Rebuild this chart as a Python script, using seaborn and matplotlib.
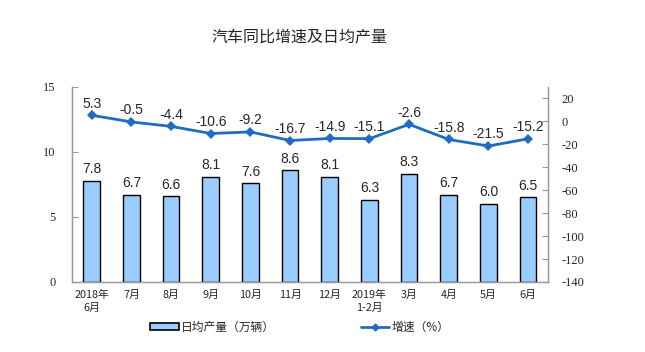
import numpy as np
import pandas as pd
import matplotlib
matplotlib.use("Agg")
import matplotlib.pyplot as plt
import seaborn as sns
from matplotlib.lines import Line2D
from matplotlib.patches import Patch

categories = ["2018年\n6月", "7月", "8月", "9月", "10月", "11月", "12月",
              "2019年\n1-2月", "3月", "4月", "5月", "6月"]
daily_output = [7.8, 6.7, 6.6, 8.1, 7.6, 8.6, 8.1, 6.3, 8.3, 6.7, 6.0, 6.5]
growth = [5.3, -0.5, -4.4, -10.6, -9.2, -16.7, -14.9, -15.1, -2.6, -15.8, -21.5, -15.2]
left_ticks = [0, 5, 10, 15]
right_ticks = [-140, -120, -100, -80, -60, -40, -20, 0, 20]

sns.set_style("white")
plt.rcParams['font.family'] = ['Noto Sans CJK SC', 'DejaVu Sans']

df = pd.DataFrame({"cat": categories, "out": daily_output, "g": growth,
                   "pos": np.arange(len(categories))})

fig = plt.figure(figsize=(6.45, 3.52), dpi=100)
ax = fig.add_axes([0.1116, 0.199, 0.738, 0.554])

sns.barplot(data=df, x="cat", y="out", ax=ax, color="#99CCFF",
            edgecolor="black", linewidth=1.0, width=0.42, saturation=1)
for i, v in enumerate(daily_output):
    ax.text(i, v + 0.35, f"{v:.1f}", ha="center", va="bottom",
            fontsize=10, family="Liberation Sans")

ax.set_ylim(0, 15)
ax.set_yticks(left_ticks)
ax.set_yticklabels([str(t) for t in left_ticks], family="Liberation Serif", fontsize=9)
ax.set_xlim(-0.5, len(categories) - 0.5)
ax.set_xticks(np.arange(len(categories)))
ax.set_xticklabels(categories, fontsize=7.8, linespacing=1.3)
ax.tick_params(axis="x", length=0, pad=6)
ax.set_xticks(np.arange(len(categories) + 1) - 0.5, minor=True)
ax.tick_params(axis="x", which="minor", direction="in", length=4, color="#999999")
ax.tick_params(axis="y", direction="in", length=4, color="#999999", pad=12)
ax.set_xlabel("")
ax.set_ylabel("")
for s in ["left", "right", "bottom"]:
    ax.spines[s].set_color("#999999")
    ax.spines[s].set_linewidth(0.9)
ax.spines["top"].set_visible(False)

ax2 = ax.twinx()
sns.lineplot(data=df, x="pos", y="g", ax=ax2, color="#1F6CC1", linewidth=2,
             marker="D", markersize=5, markeredgewidth=0)
for i, v in enumerate(growth):
    ax2.text(i, v + 4, f"{v:.1f}", ha="center", va="bottom",
             fontsize=10, family="Liberation Sans")
ax2.set_ylim(-140, 30)
ax2.set_yticks(right_ticks)
ax2.set_yticklabels([str(t) for t in right_ticks], family="Liberation Serif", fontsize=9)
ax2.tick_params(axis="y", direction="in", length=4, color="#999999", pad=10)
ax2.set_xlabel("")
ax2.set_ylabel("")
for s in ["left", "right", "bottom"]:
    ax2.spines[s].set_color("#999999")
    ax2.spines[s].set_linewidth(0.9)
ax2.spines["top"].set_visible(False)
ax2.set_xlim(-0.5, len(categories) - 0.5)

fig.text(0.465, 0.892, "汽车同比增速及日均产量", ha="center", va="center",
         fontsize=11.5, fontweight="medium")

handles = [Patch(facecolor="#99CCFF", edgecolor="black", linewidth=1.2),
           Line2D([0], [0], color="#1F6CC1", lw=2, marker="D", markersize=3.5)]
labels = ["日均产量（万辆）", "增速（%）"]
fig.legend(handles, labels, loc="center", bbox_to_anchor=(0.465, 0.07), ncol=2,
           frameon=False, fontsize=8.5, columnspacing=7.3, handlelength=2.4,
           handletextpad=0.2, handleheight=0.6)

fig.savefig("out.png", dpi=100)
